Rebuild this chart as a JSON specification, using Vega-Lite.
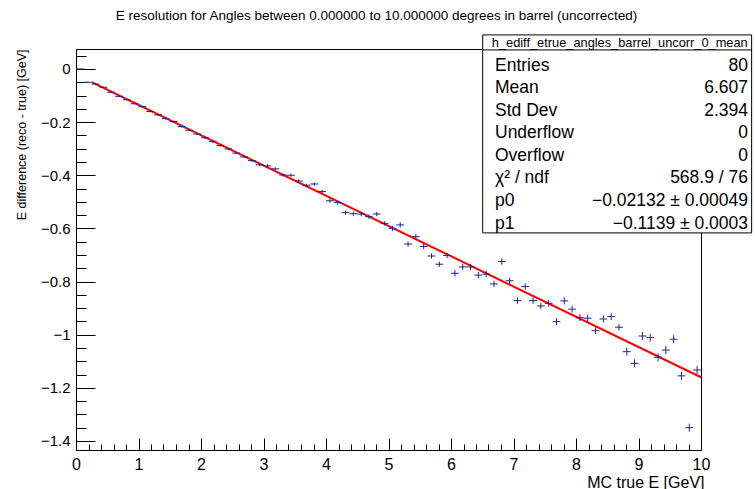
{
  "$schema": "https://vega.github.io/schema/vega-lite/v6.json",
  "width": 625,
  "height": 401,
  "autosize": "none",
  "padding": {"left": 76, "top": 49, "right": 54, "bottom": 39},
  "background": "white",
  "config": {"view": {"stroke": "#000000", "strokeWidth": 1}, "font": "Liberation Sans"},
  "title": {"text": "E resolution for Angles between 0.000000 to 10.000000 degrees in barrel (uncorrected)", "font": "Liberation Sans", "fontSize": 13.5, "fontWeight": "normal", "color": "#000000", "anchor": "middle", "dx": -12, "offset": 12, "frame": "group"},
  "datasets": {
    "pts": [
      {"E": 0.0625, "d": 0.000, "ex": 0.0625, "ey": 0},
      {"E": 0.1875, "d": -0.050, "ex": 0.0625, "ey": 0.002},
      {"E": 0.3125, "d": -0.057, "ex": 0.0625, "ey": 0.002},
      {"E": 0.4375, "d": -0.069, "ex": 0.0625, "ey": 0.002},
      {"E": 0.5625, "d": -0.088, "ex": 0.0625, "ey": 0.002},
      {"E": 0.6875, "d": -0.103, "ex": 0.0625, "ey": 0.002},
      {"E": 0.8125, "d": -0.116, "ex": 0.0625, "ey": 0.002},
      {"E": 0.9375, "d": -0.131, "ex": 0.0625, "ey": 0.002},
      {"E": 1.0625, "d": -0.142, "ex": 0.0625, "ey": 0.003},
      {"E": 1.1875, "d": -0.160, "ex": 0.0625, "ey": 0.003},
      {"E": 1.3125, "d": -0.173, "ex": 0.0625, "ey": 0.003},
      {"E": 1.4375, "d": -0.187, "ex": 0.0625, "ey": 0.003},
      {"E": 1.5625, "d": -0.198, "ex": 0.0625, "ey": 0.003},
      {"E": 1.6875, "d": -0.217, "ex": 0.0625, "ey": 0.003},
      {"E": 1.8125, "d": -0.231, "ex": 0.0625, "ey": 0.003},
      {"E": 1.9375, "d": -0.245, "ex": 0.0625, "ey": 0.003},
      {"E": 2.0625, "d": -0.259, "ex": 0.0625, "ey": 0.004},
      {"E": 2.1875, "d": -0.274, "ex": 0.0625, "ey": 0.004},
      {"E": 2.3125, "d": -0.288, "ex": 0.0625, "ey": 0.004},
      {"E": 2.4375, "d": -0.301, "ex": 0.0625, "ey": 0.004},
      {"E": 2.5625, "d": -0.317, "ex": 0.0625, "ey": 0.004},
      {"E": 2.6875, "d": -0.331, "ex": 0.0625, "ey": 0.004},
      {"E": 2.8125, "d": -0.345, "ex": 0.0625, "ey": 0.004},
      {"E": 2.9375, "d": -0.361, "ex": 0.0625, "ey": 0.004},
      {"E": 3.0625, "d": -0.365, "ex": 0.0625, "ey": 0.006},
      {"E": 3.1875, "d": -0.376, "ex": 0.0625, "ey": 0.006},
      {"E": 3.3125, "d": -0.399, "ex": 0.0625, "ey": 0.006},
      {"E": 3.4375, "d": -0.400, "ex": 0.0625, "ey": 0.006},
      {"E": 3.5625, "d": -0.422, "ex": 0.0625, "ey": 0.006},
      {"E": 3.6875, "d": -0.438, "ex": 0.0625, "ey": 0.006},
      {"E": 3.8125, "d": -0.433, "ex": 0.0625, "ey": 0.006},
      {"E": 3.9375, "d": -0.461, "ex": 0.0625, "ey": 0.006},
      {"E": 4.0625, "d": -0.496, "ex": 0.0625, "ey": 0.008},
      {"E": 4.1875, "d": -0.503, "ex": 0.0625, "ey": 0.008},
      {"E": 4.3125, "d": -0.541, "ex": 0.0625, "ey": 0.008},
      {"E": 4.4375, "d": -0.545, "ex": 0.0625, "ey": 0.008},
      {"E": 4.5625, "d": -0.546, "ex": 0.0625, "ey": 0.008},
      {"E": 4.6875, "d": -0.556, "ex": 0.0625, "ey": 0.008},
      {"E": 4.8125, "d": -0.546, "ex": 0.0625, "ey": 0.008},
      {"E": 4.9375, "d": -0.581, "ex": 0.0625, "ey": 0.008},
      {"E": 5.0625, "d": -0.600, "ex": 0.0625, "ey": 0.010},
      {"E": 5.1875, "d": -0.587, "ex": 0.0625, "ey": 0.010},
      {"E": 5.3125, "d": -0.659, "ex": 0.0625, "ey": 0.010},
      {"E": 5.4375, "d": -0.631, "ex": 0.0625, "ey": 0.010},
      {"E": 5.5625, "d": -0.668, "ex": 0.0625, "ey": 0.010},
      {"E": 5.6875, "d": -0.704, "ex": 0.0625, "ey": 0.010},
      {"E": 5.8125, "d": -0.735, "ex": 0.0625, "ey": 0.010},
      {"E": 5.9375, "d": -0.702, "ex": 0.0625, "ey": 0.010},
      {"E": 6.0625, "d": -0.769, "ex": 0.0625, "ey": 0.012},
      {"E": 6.1875, "d": -0.745, "ex": 0.0625, "ey": 0.012},
      {"E": 6.3125, "d": -0.745, "ex": 0.0625, "ey": 0.012},
      {"E": 6.4375, "d": -0.776, "ex": 0.0625, "ey": 0.012},
      {"E": 6.5625, "d": -0.772, "ex": 0.0625, "ey": 0.012},
      {"E": 6.6875, "d": -0.809, "ex": 0.0625, "ey": 0.012},
      {"E": 6.8125, "d": -0.725, "ex": 0.0625, "ey": 0.012},
      {"E": 6.9375, "d": -0.797, "ex": 0.0625, "ey": 0.012},
      {"E": 7.0625, "d": -0.872, "ex": 0.0625, "ey": 0.012},
      {"E": 7.1875, "d": -0.819, "ex": 0.0625, "ey": 0.012},
      {"E": 7.3125, "d": -0.872, "ex": 0.0625, "ey": 0.012},
      {"E": 7.4375, "d": -0.892, "ex": 0.0625, "ey": 0.012},
      {"E": 7.5625, "d": -0.882, "ex": 0.0625, "ey": 0.013},
      {"E": 7.6875, "d": -0.951, "ex": 0.0625, "ey": 0.013},
      {"E": 7.8125, "d": -0.873, "ex": 0.0625, "ey": 0.013},
      {"E": 7.9375, "d": -0.904, "ex": 0.0625, "ey": 0.013},
      {"E": 8.0625, "d": -0.936, "ex": 0.0625, "ey": 0.013},
      {"E": 8.1875, "d": -0.938, "ex": 0.0625, "ey": 0.013},
      {"E": 8.3125, "d": -0.985, "ex": 0.0625, "ey": 0.013},
      {"E": 8.4375, "d": -0.941, "ex": 0.0625, "ey": 0.013},
      {"E": 8.5625, "d": -0.932, "ex": 0.0625, "ey": 0.013},
      {"E": 8.6875, "d": -0.972, "ex": 0.0625, "ey": 0.013},
      {"E": 8.8125, "d": -1.064, "ex": 0.0625, "ey": 0.015},
      {"E": 8.9375, "d": -1.108, "ex": 0.0625, "ey": 0.015},
      {"E": 9.0625, "d": -1.005, "ex": 0.0625, "ey": 0.015},
      {"E": 9.1875, "d": -1.011, "ex": 0.0625, "ey": 0.015},
      {"E": 9.3125, "d": -1.085, "ex": 0.0625, "ey": 0.015},
      {"E": 9.4375, "d": -1.058, "ex": 0.0625, "ey": 0.015},
      {"E": 9.5625, "d": -1.017, "ex": 0.0625, "ey": 0.015},
      {"E": 9.6875, "d": -1.155, "ex": 0.0625, "ey": 0.015},
      {"E": 9.8125, "d": -1.350, "ex": 0.0625, "ey": 0.015},
      {"E": 9.9375, "d": -1.133, "ex": 0.0625, "ey": 0.015}
    ],
    "fit": [
      {"E": 0.25, "d": -0.04980},
      {"E": 10, "d": -1.16032}
    ],
    "stats": [
      {"row": 1, "k": "Entries", "v": "80"},
      {"row": 2, "k": "Mean", "v": "6.607"},
      {"row": 3, "k": "Std Dev", "v": "2.394"},
      {"row": 4, "k": "Underflow", "v": "0"},
      {"row": 5, "k": "Overflow", "v": "0"},
      {"row": 6, "k": "χ² / ndf", "v": "568.9 / 76"},
      {"row": 7, "k": "p0", "v": "−0.02132 ± 0.00049"},
      {"row": 8, "k": "p1", "v": "−0.1139 ± 0.0003"}
    ],
    "statsTitle": [
      {"row": 0, "t": "h_ediff_etrue_angles_barrel_uncorr_0_mean"}
    ]
  },
  "layer": [
    {
      "layer": [
        {
          "data": {"name": "fit"},
          "mark": {"type": "line", "color": "#ff0000", "strokeWidth": 2},
          "encoding": {
            "x": {
              "field": "E", "type": "quantitative",
              "scale": {"domain": [0, 10], "nice": false, "zero": false},
              "axis": {
                "orient": "bottom",
                "values": [0,1,2,3,4,5,6,7,8,9,10],
                "format": "~r",
                "tickSize": -12,
                "labelPadding": 18,
                "labelOverlap": false,
                "labelFlush": false,
                "grid": false,
                "domainColor": "#000000",
                "tickColor": "#000000",
                "labelColor": "#000000",
                "labelFont": "Liberation Sans",
                "labelFontSize": 16,
                "title": "MC true E [GeV]",
                "titleFont": "Liberation Sans",
                "titleFontSize": 16,
                "titleFontWeight": "normal",
                "titleColor": "#000000",
                "titleAlign": "right",
                "titleBaseline": "top",
                "titleX": 628,
                "titleY": 24
              }
            },
            "y": {
              "field": "d", "type": "quantitative",
              "scale": {"domain": [-1.434, 0.075], "nice": false, "zero": false},
              "axis": {
                "orient": "left",
                "values": [0,-0.2,-0.4,-0.6,-0.8,-1,-1.2,-1.4],
                "format": "~r",
                "tickSize": -19,
                "labelPadding": 25,
                "labelOverlap": false,
                "labelFlush": false,
                "grid": false,
                "domainColor": "#000000",
                "tickColor": "#000000",
                "labelColor": "#000000",
                "labelFont": "Liberation Sans",
                "labelFontSize": 15,
                "title": "E difference (reco - true) [GeV]",
                "titleFont": "Liberation Sans",
                "titleFontSize": 12.5,
                "titleFontWeight": "normal",
                "titleColor": "#000000",
                "titleAngle": 270,
                "titleAlign": "right",
                "titleBaseline": "middle",
                "titleX": -55,
                "titleY": 0
              }
            }
          }
        },
        {
          "data": {"name": "pts"},
          "mark": {"type": "errorbar", "color": "#23238a", "thickness": 1},
          "encoding": {
            "x": {
              "field": "E", "type": "quantitative",
              "scale": {"domain": [0, 10], "nice": false, "zero": false},
              "axis": {
                "orient": "bottom",
                "values": [0.2,0.4,0.6,0.8,1.2,1.4,1.6,1.8,2.2,2.4,2.6,2.8,3.2,3.4,3.6,3.8,4.2,4.4,4.6,4.8,5.2,5.4,5.6,5.8,6.2,6.4,6.6,6.8,7.2,7.4,7.6,7.8,8.2,8.4,8.6,8.8,9.2,9.4,9.6,9.8],
                "tickSize": -6,
                "labels": false,
                "domain": false,
                "grid": false,
                "tickColor": "#000000",
                "title": null
              }
            },
            "xError": {"field": "ex"},
            "y": {
              "field": "d", "type": "quantitative",
              "scale": {"domain": [-1.434, 0.075], "nice": false, "zero": false},
              "axis": {
                "orient": "left",
                "values": [0.05,-0.05,-0.1,-0.15,-0.25,-0.3,-0.35,-0.45,-0.5,-0.55,-0.65,-0.7,-0.75,-0.85,-0.9,-0.95,-1.05,-1.1,-1.15,-1.25,-1.3,-1.35],
                "tickSize": -10,
                "labels": false,
                "domain": false,
                "grid": false,
                "tickColor": "#000000",
                "title": null
              }
            }
          }
        },
        {
          "data": {"name": "pts"},
          "mark": {"type": "errorbar", "color": "#23238a", "thickness": 1},
          "encoding": {
            "x": {"field": "E", "type": "quantitative", "scale": {"domain": [0, 10], "nice": false, "zero": false}, "axis": null},
            "y": {"field": "d", "type": "quantitative", "scale": {"domain": [-1.434, 0.075], "nice": false, "zero": false}, "axis": null},
            "yError": {"field": "ey"}
          }
        },
        {
          "data": {"values": [{}]},
          "mark": {"type": "rect", "fill": "#ffffff", "stroke": "#000000", "strokeWidth": 1},
          "encoding": {
            "x": {"datum": 6.507, "type": "quantitative", "axis": null},
            "x2": {"datum": 10.81},
            "y": {"datum": 0.128, "type": "quantitative", "axis": null},
            "y2": {"datum": -0.617}
          }
        },
        {
          "data": {"values": [{}]},
          "mark": {"type": "rule", "color": "#000000", "strokeWidth": 1},
          "encoding": {
            "x": {"datum": 6.507, "type": "quantitative", "axis": null},
            "x2": {"datum": 10.81},
            "y": {"datum": 0.0715, "type": "quantitative", "axis": null}
          }
        }
      ],
      "resolve": {"axis": {"x": "independent", "y": "independent"}}
    },
    {
      "layer": [
        {
          "data": {"name": "stats"},
          "mark": {"type": "text", "align": "left", "baseline": "middle", "font": "Liberation Sans", "fontSize": 17.5, "color": "#000000"},
          "encoding": {
            "x": {"datum": 6.704, "type": "quantitative", "axis": null},
            "y": {"field": "row", "type": "quantitative", "scale": {"domain": [0, 8], "range": [-5.85, 174.55]}, "axis": null},
            "text": {"field": "k"}
          }
        },
        {
          "data": {"name": "stats"},
          "mark": {"type": "text", "align": "right", "baseline": "middle", "font": "Liberation Sans", "fontSize": 17.5, "color": "#000000"},
          "encoding": {
            "x": {"datum": 10.752, "type": "quantitative", "axis": null},
            "y": {"field": "row", "type": "quantitative", "scale": {"domain": [0, 8], "range": [-5.85, 174.55]}, "axis": null},
            "text": {"field": "v"}
          }
        },
        {
          "data": {"name": "statsTitle"},
          "mark": {"type": "text", "align": "center", "baseline": "middle", "font": "Liberation Sans", "fontSize": 12.8, "color": "#000000"},
          "encoding": {
            "x": {"datum": 8.7, "type": "quantitative", "axis": null},
            "y": {"field": "row", "type": "quantitative", "scale": {"domain": [0, 8], "range": [-5.85, 174.55]}, "axis": null},
            "text": {"field": "t"}
          }
        }
      ]
    }
  ],
  "resolve": {"scale": {"y": "independent"}}
}
